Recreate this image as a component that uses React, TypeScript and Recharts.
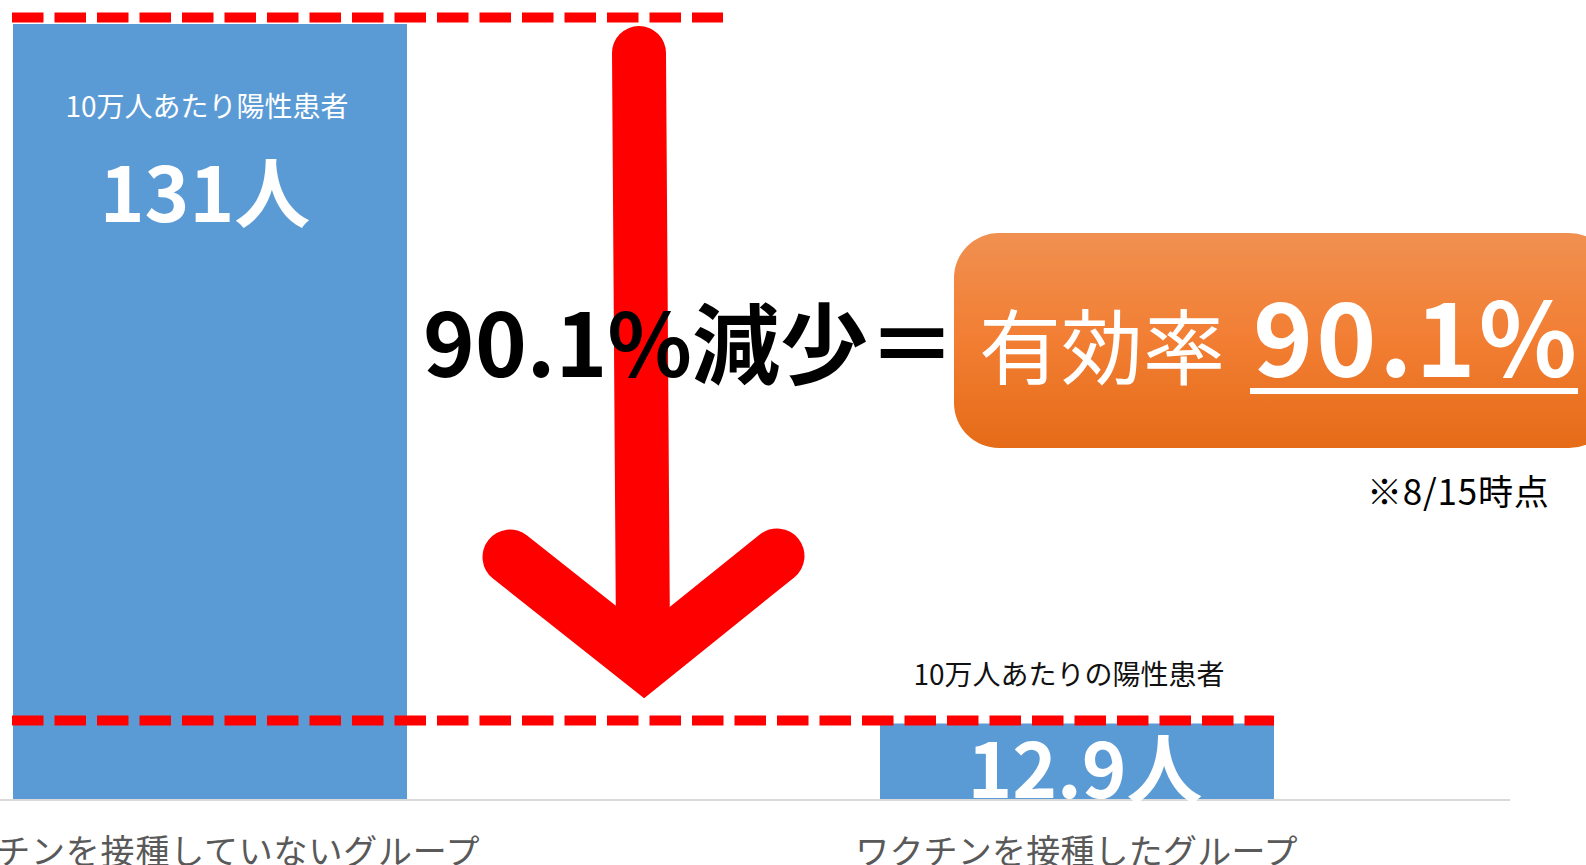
import React from 'react';
import { BarChart, Bar, XAxis, YAxis, ReferenceLine, LabelList } from 'recharts';

const categories = ['ワクチンを接種していないグループ', 'ワクチンを接種したグループ'];
const positivesPer100k = [131, 12.9];
const valueLabels = ['131人', '12.9人'];
const captionLabels = ['10万人あたり陽性患者', '10万人あたりの陽性患者'];
const reductionText = '90.1%減少＝';
const effLabel = '有効率';
const effValue = '90.1%';
const noteText = '※8/15時点';

const data = categories.map((c, i) => ({
  category: c,
  value: positivesPer100k[i],
  valueLabel: valueLabels[i],
  caption: captionLabels[i],
}));

const FONT = '"Noto Sans CJK JP", "Noto Sans", sans-serif';
const SHIFT = 224; // chart is shifted left so the first category is cropped like the reference
const CHART_W = 1810;
const CHART_H = 865;

const renderBarLabels = (props: any) => {
  const { x, y, width, index } = props;
  const cx = Number(x) + Number(width) / 2;
  const yy = Number(y);
  const d = data[index];
  if (!d) return null;
  if (index === 0) {
    return (
      <g>
        <text x={cx - 3} y={yy + 81} fill="#ffffff" fontSize={28} textAnchor="middle" dominantBaseline="central" fontFamily={FONT}>
          {d.caption}
        </text>
        <text x={cx - 5} y={yy + 165} fill="#ffffff" fontSize={76} fontWeight={700} textAnchor="middle" dominantBaseline="central" fontFamily={FONT}>
          {d.valueLabel}
        </text>
      </g>
    );
  }
  return (
    <g>
      <text x={cx - 8} y={yy - 51} fill="#111111" fontSize={28} textAnchor="middle" dominantBaseline="central" fontFamily={FONT}>
        {d.caption}
      </text>
      <text x={cx + 8} y={yy + 41} fill="#ffffff" fontSize={76} fontWeight={700} textAnchor="middle" dominantBaseline="central" fontFamily={FONT}>
        {d.valueLabel}
      </text>
    </g>
  );
};

const renderTick = (props: any) => {
  const { x, y, payload, index } = props;
  const dx = index === 0 ? -6 : 0;
  return (
    <text
      x={Number(x) + dx}
      y={Number(y) + 47}
      fill="#595959"
      fontSize={34}
      textAnchor="middle"
      dominantBaseline="central"
      fontFamily={FONT}
      letterSpacing={index === 0 ? 0.8 : 0.2}
    >
      {payload.value}
    </text>
  );
};

const dashedShape = (startPage: number, endPage: number, offset: number) => (props: any) => {
  const y = Number(props.y1) + offset;
  return (
    <line
      x1={startPage + SHIFT}
      x2={endPage + SHIFT}
      y1={y}
      y2={y}
      stroke="#FF0000"
      strokeWidth={10}
      strokeDasharray="31.5 11"
    />
  );
};

export default function App() {
  return (
    <div
      style={{
        position: 'fixed',
        left: 0,
        top: 0,
        width: 1586,
        height: 865,
        overflow: 'hidden',
        background: '#ffffff',
      }}
    >
      <div style={{ position: 'absolute', left: -SHIFT, top: 0 }}>
        <BarChart
          width={CHART_W}
          height={CHART_H}
          data={data}
          margin={{ top: 24, right: 76, bottom: 0, left: 0 }}
        >
          <XAxis
            dataKey="category"
            height={65}
            axisLine={{ stroke: '#D9D9D9', strokeWidth: 2 }}
            tickLine={false}
            tickSize={0}
            interval={0}
            tick={renderTick}
          />
          <YAxis hide domain={[0, 131]} />
          <Bar dataKey="value" fill="#5B9BD5" barSize={394} isAnimationActive={false}>
            <LabelList dataKey="value" content={renderBarLabels} />
          </Bar>
          <ReferenceLine y={positivesPer100k[0]} shape={dashedShape(12, 723, -6.5)} />
          <ReferenceLine y={positivesPer100k[1]} shape={dashedShape(12, 1274, -3)} />
        </BarChart>
      </div>
      <svg
        width={1586}
        height={865}
        style={{ position: 'absolute', left: 0, top: 0 }}
      >
        <defs>
          <linearGradient id="orangeGrad" x1="0" y1="0" x2="0" y2="1">
            <stop offset="0%" stopColor="#F09050" />
            <stop offset="50%" stopColor="#F27E33" />
            <stop offset="100%" stopColor="#E56B17" />
          </linearGradient>
        </defs>
        {/* red arrow */}
        <path d="M 639 53 L 643 640" stroke="#FF0000" strokeWidth={54} strokeLinecap="round" fill="none" />
        <path
          d="M 510 557 L 644 663 L 777 556"
          stroke="#FF0000"
          strokeWidth={55}
          fill="none"
          strokeLinecap="round"
          strokeLinejoin="miter"
          strokeMiterlimit={10}
        />
        <text x={423} y={377} fontSize={88} fontWeight={700} fill="#000000" fontFamily={FONT}>
          {reductionText}
        </text>
        {/* orange badge */}
        <rect x={954} y={233} width={660} height={215} rx={45} ry={45} fill="url(#orangeGrad)" />
        <text x={979} y={378} fontSize={82} fill="#ffffff" fontFamily={FONT}>
          {effLabel}
        </text>
        <text x={1253} y={377} fontSize={102} fontWeight={700} fill="#ffffff" letterSpacing={3} fontFamily={FONT}>
          {effValue}
        </text>
        <rect x={1250} y={388} width={328} height={6} fill="#ffffff" />
        <text x={1367} y={505} fontSize={35} fill="#000000" letterSpacing={0.8} fontFamily={FONT}>
          {noteText}
        </text>
      </svg>
    </div>
  );
}
